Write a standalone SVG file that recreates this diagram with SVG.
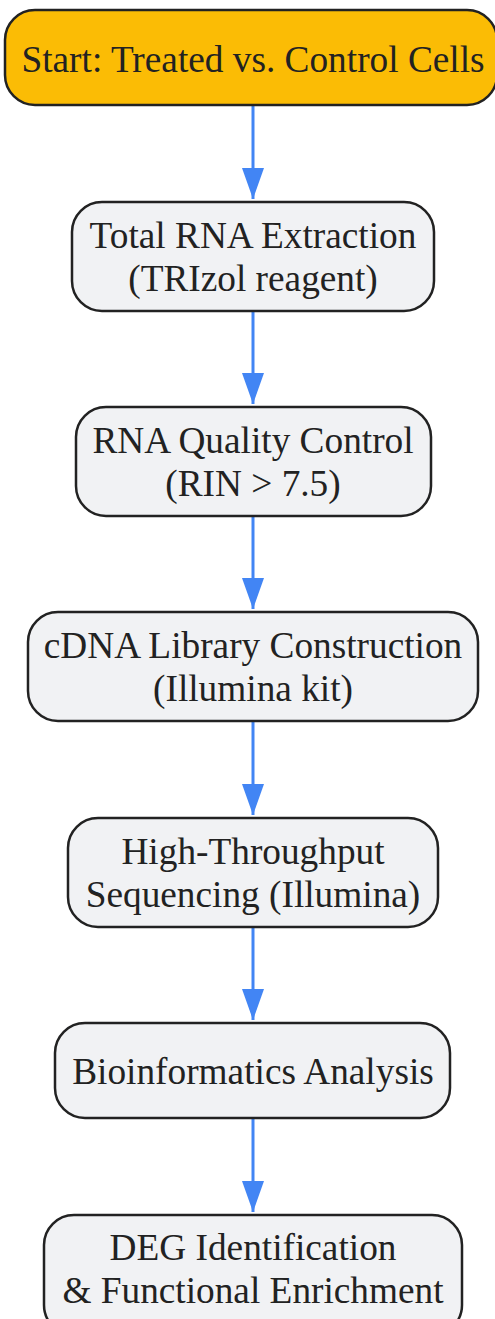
<svg xmlns="http://www.w3.org/2000/svg" width="495" height="1319" viewBox="0 0 495 1319">
<style>
.n{fill:#F1F2F4;stroke:#222;stroke-width:2.5}
.s{fill:#FBBC05;stroke:#222;stroke-width:2.5}
text{font-family:"Liberation Serif",serif;font-size:37.3px;fill:#222;text-anchor:middle}
.e{stroke:#4285F4;stroke-width:3;fill:none;marker-end:url(#a)}
</style>
<defs>
<marker id="a" markerUnits="userSpaceOnUse" markerWidth="31" markerHeight="22" refX="31" refY="11" orient="auto" viewBox="0 0 31 22">
<path d="M0,0 L31,11 L0,22 Z" fill="#4285F4"/>
</marker>
</defs>
<g id="edges">
<path class="e" d="M253,105 V199"/>
<path class="e" d="M253,311 V404"/>
<path class="e" d="M253,516 V609"/>
<path class="e" d="M253,721 V815"/>
<path class="e" d="M253,927 V1020"/>
<path class="e" d="M253,1118 V1212"/>
</g>
<g id="n1"><rect class="s" x="5" y="10" width="492" height="95" rx="30"/><text x="253" y="72">Start: Treated vs. Control Cells</text></g>
<g id="n2"><rect class="n" x="72" y="202" width="362" height="109" rx="30"/><text x="253" y="248">Total RNA Extraction</text><text x="253" y="291">(TRIzol reagent)</text></g>
<g id="n3"><rect class="n" x="76" y="407" width="355" height="109" rx="30"/><text x="253" y="453">RNA Quality Control</text><text x="253" y="496">(RIN &gt; 7.5)</text></g>
<g id="n4"><rect class="n" x="28" y="612" width="450" height="109" rx="30"/><text x="253" y="658">cDNA Library Construction</text><text x="253" y="701">(Illumina kit)</text></g>
<g id="n5"><rect class="n" x="68" y="818" width="370" height="109" rx="30"/><text x="253" y="864">High-Throughput</text><text x="253" y="907">Sequencing (Illumina)</text></g>
<g id="n6"><rect class="n" x="55" y="1023" width="395" height="95" rx="30"/><text x="253" y="1084">Bioinformatics Analysis</text></g>
<g id="n7"><rect class="n" x="44" y="1215" width="418" height="120" rx="30"/><text x="253" y="1260">DEG Identification</text><text x="253" y="1303">&amp; Functional Enrichment</text></g>
</svg>
